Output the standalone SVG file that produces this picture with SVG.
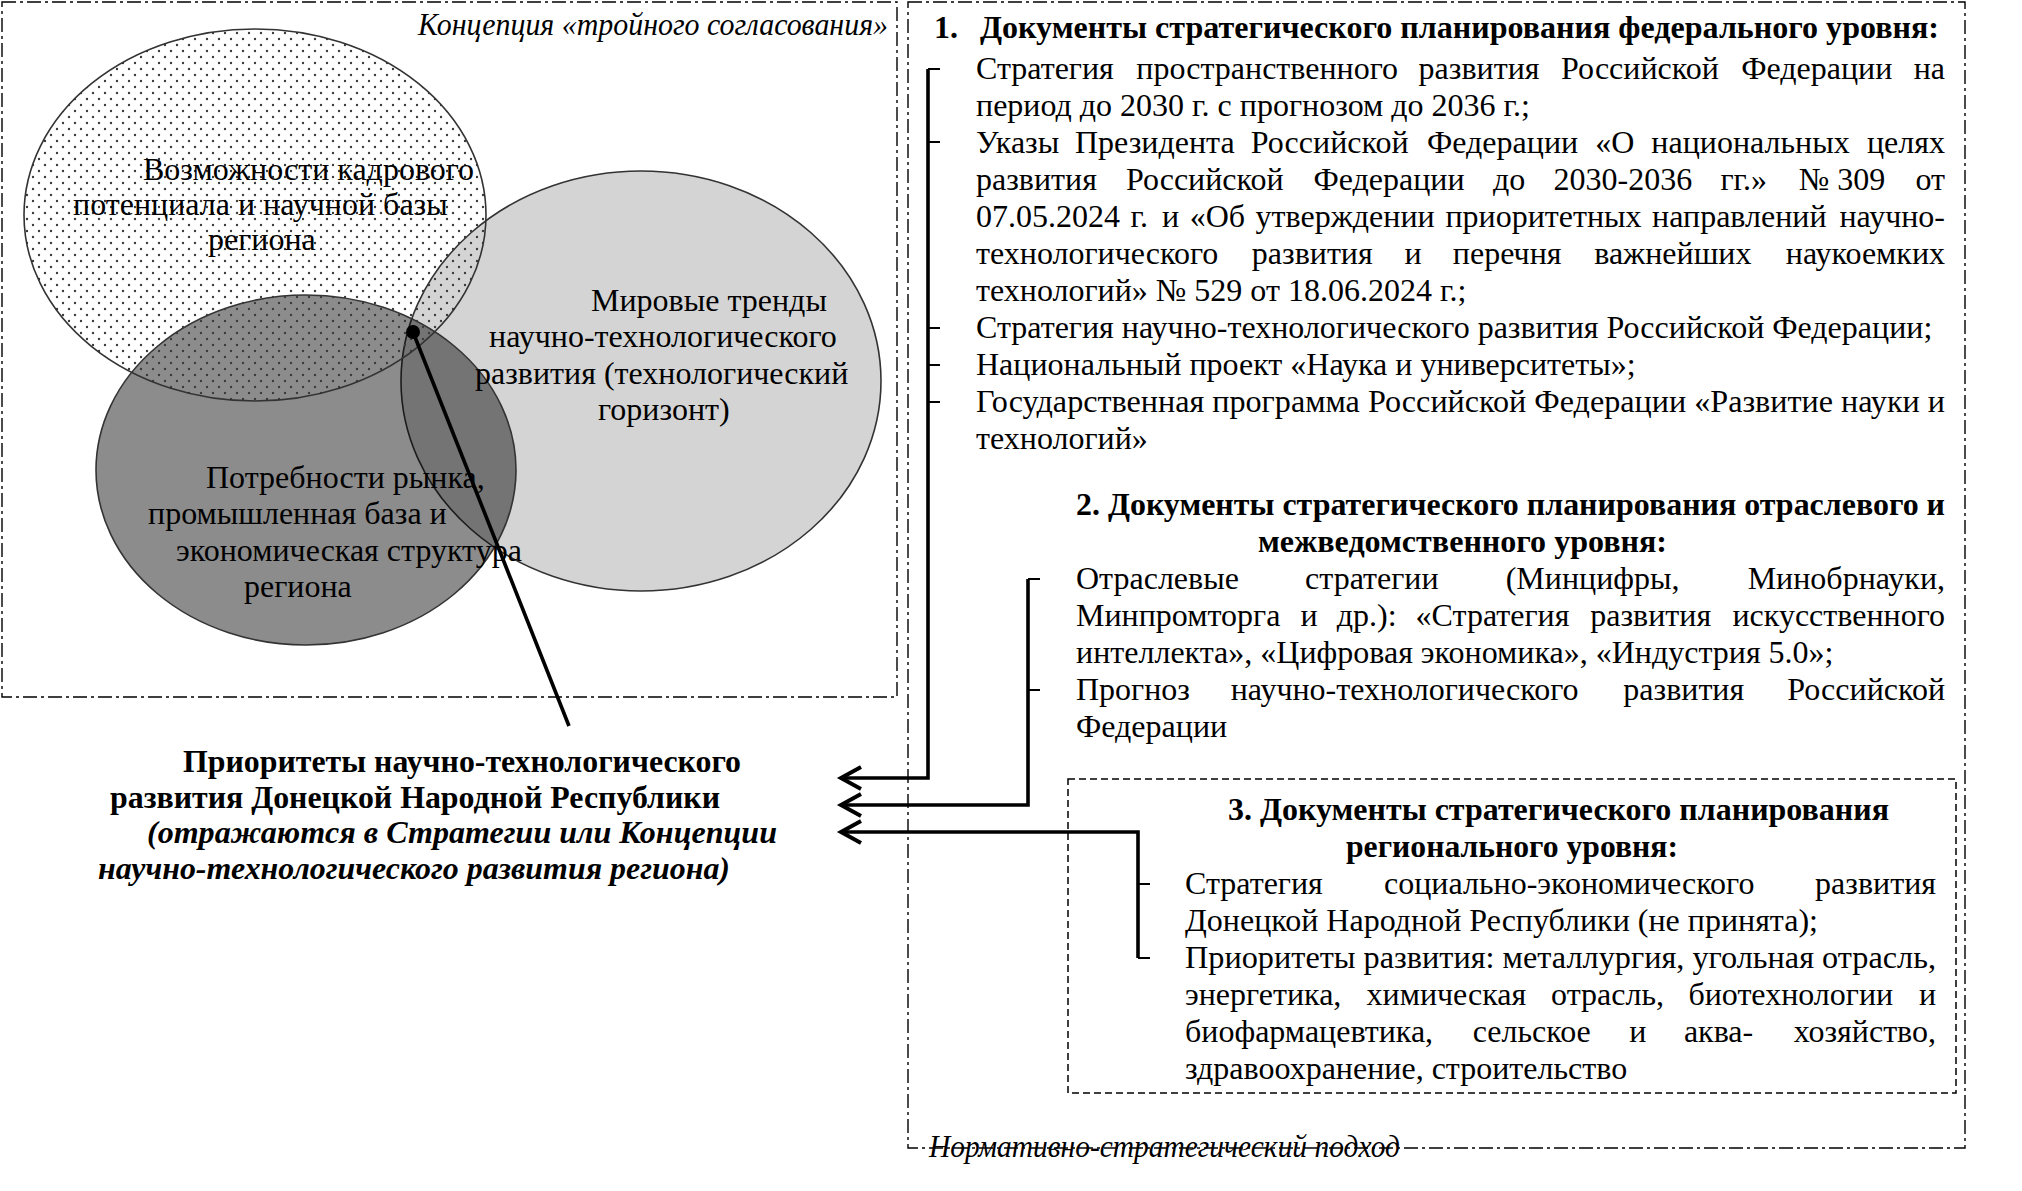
<svg xmlns="http://www.w3.org/2000/svg" width="2022" height="1191" viewBox="0 0 2022 1191">
<style>
text{font-family:"Liberation Serif","Times New Roman",serif;font-size:32px;fill:#000}
.b{font-weight:bold}
.i{font-style:italic}
.frame{fill:none;stroke:#000;stroke-width:1.4;stroke-dasharray:14 4 3 4}
.dash{fill:none;stroke:#000;stroke-width:1.5;stroke-dasharray:7 4}
.ell{stroke:#333;stroke-width:1.6}
.con{fill:none;stroke:#000;stroke-width:3.6;stroke-linejoin:miter}
.tick{stroke:#000;stroke-width:2}
</style>
<defs>
<pattern id="dots" width="12" height="12" patternUnits="userSpaceOnUse">
<circle cx="3" cy="3" r="1.2" fill="#3a3a3a"/>
<circle cx="9" cy="9" r="1.2" fill="#3a3a3a"/>
</pattern>
<marker id="arr" markerUnits="userSpaceOnUse" markerWidth="40" markerHeight="40" viewBox="-25 -20 40 40" refX="0" refY="0" orient="auto" overflow="visible">
<path d="M-20,-11 L0,0 L-20,11" fill="none" stroke="#000" stroke-width="4"/>
</marker>
</defs>
<rect width="2022" height="1191" fill="#fff"/>

<g id="frame-concept">
<rect class="frame" x="2" y="2" width="895" height="695"/>
<text class="i" x="418" y="35" textLength="470" lengthAdjust="spacingAndGlyphs">Концепция «тройного согласования»</text>
</g>

<g id="frame-normative">
<rect class="frame" x="908" y="2" width="1057" height="1146"/>
<text class="i" x="929" y="1157" textLength="471" lengthAdjust="spacingAndGlyphs">Нормативно-стратегический подход</text>
</g>

<g id="venn">
<ellipse id="world-trends" class="ell" cx="641" cy="381" rx="240" ry="210" fill="#d4d4d4"/>
<ellipse id="market-needs" class="ell" cx="306" cy="470" rx="210" ry="175" fill="#000" fill-opacity="0.45"/>
<ellipse id="staff-potential" class="ell" cx="255" cy="215" rx="231" ry="186" fill="url(#dots)"/>
<text x="143" y="180">Возможности кадрового</text>
<text x="73" y="215">потенциала и научной базы</text>
<text x="208" y="250">региона</text>
<text x="591" y="311">Мировые тренды</text>
<text x="489" y="347">научно-технологического</text>
<text x="475" y="384">развития (технологический</text>
<text x="598" y="420">горизонт)</text>
<text x="206" y="488">Потребности рынка,</text>
<text x="148" y="524">промышленная база и</text>
<text x="176" y="561">экономическая структура</text>
<text x="244" y="597">региона</text>
</g>

<g id="priorities">
<text class="b" x="183" y="772" textLength="558" lengthAdjust="spacingAndGlyphs">Приоритеты научно-технологического</text>
<text class="b" x="110" y="808" textLength="610" lengthAdjust="spacingAndGlyphs">развития Донецкой Народной Республики</text>
<text class="b i" x="147" y="843" textLength="630" lengthAdjust="spacingAndGlyphs">(отражаются в Стратегии или Концепции</text>
<text class="b i" x="98" y="879" textLength="632" lengthAdjust="spacingAndGlyphs">научно-технологического развития региона)</text>
</g>

<g id="federal-docs">
<text class="b" x="934" y="38">1.</text>
<text class="b" x="980" y="38" textLength="959" lengthAdjust="spacingAndGlyphs">Документы стратегического планирования федерального уровня:</text>
<text y="79"><tspan x="976">Стратегия</tspan><tspan x="1136.3">пространственного</tspan><tspan x="1418.6">развития</tspan><tspan x="1561.1">Российской</tspan><tspan x="1741.2">Федерации</tspan><tspan x="1945" text-anchor="end">на</tspan></text>
<text x="976" y="116">период до 2030 г. с прогнозом до 2036 г.;</text>
<text y="153"><tspan x="976">Указы</tspan><tspan x="1075">Президента</tspan><tspan x="1250.8">Российской</tspan><tspan x="1427">Федерации</tspan><tspan x="1595.3">«О</tspan><tspan x="1651.3">национальных</tspan><tspan x="1945" text-anchor="end">целях</tspan></text>
<text y="190"><tspan x="976">развития</tspan><tspan x="1125.9">Российской</tspan><tspan x="1313.4">Федерации</tspan><tspan x="1493">до</tspan><tspan x="1553.5">2030-2036</tspan><tspan x="1720.4">гг.»</tspan><tspan x="1798.8">№ 309</tspan><tspan x="1945" text-anchor="end">от</tspan></text>
<text y="227"><tspan x="976">07.05.2024</tspan><tspan x="1130.5">г.</tspan><tspan x="1162.1">и</tspan><tspan x="1189.7">«Об</tspan><tspan x="1255.6">утверждении</tspan><tspan x="1445.4">приоритетных</tspan><tspan x="1652.1">направлений</tspan><tspan x="1945" text-anchor="end">научно-</tspan></text>
<text y="264"><tspan x="976">технологического</tspan><tspan x="1251.8">развития</tspan><tspan x="1404.6">и</tspan><tspan x="1452.8">перечня</tspan><tspan x="1594.2">важнейших</tspan><tspan x="1945" text-anchor="end">наукоемких</tspan></text>
<text x="976" y="301">технологий» № 529 от 18.06.2024 г.;</text>
<text x="976" y="338">Стратегия научно-технологического развития Российской Федерации;</text>
<text x="976" y="375">Национальный проект «Наука и университеты»;</text>
<text x="976" y="412" textLength="969" lengthAdjust="spacingAndGlyphs">Государственная программа Российской Федерации «Развитие науки и</text>
<text x="976" y="449">технологий»</text>
</g>

<g id="sectoral-docs">
<text class="b" x="1076" y="515" textLength="869" lengthAdjust="spacingAndGlyphs">2. Документы стратегического планирования отраслевого и</text>
<text class="b" x="1258" y="552" textLength="409" lengthAdjust="spacingAndGlyphs">межведомственного уровня:</text>
<text y="589"><tspan x="1076">Отраслевые</tspan><tspan x="1305.1">стратегии</tspan><tspan x="1505.7">(Минцифры,</tspan><tspan x="1945" text-anchor="end">Минобрнауки,</tspan></text>
<text y="626"><tspan x="1076">Минпромторга</tspan><tspan x="1300.5">и</tspan><tspan x="1336.7">др.):</tspan><tspan x="1415.6">«Стратегия</tspan><tspan x="1590.2">развития</tspan><tspan x="1945" text-anchor="end">искусственного</tspan></text>
<text x="1076" y="663">интеллекта», «Цифровая экономика», «Индустрия 5.0»;</text>
<text y="700"><tspan x="1076">Прогноз</tspan><tspan x="1230.7">научно-технологического</tspan><tspan x="1623.3">развития</tspan><tspan x="1945" text-anchor="end">Российской</tspan></text>
<text x="1076" y="737">Федерации</text>
</g>

<g id="regional-docs">
<rect class="dash" x="1068" y="779" width="888" height="314"/>
<text class="b" x="1228" y="820" textLength="661" lengthAdjust="spacingAndGlyphs">3. Документы стратегического планирования</text>
<text class="b" x="1346" y="857" textLength="332" lengthAdjust="spacingAndGlyphs">регионального уровня:</text>
<text y="894"><tspan x="1185">Стратегия</tspan><tspan x="1384">социально-экономического</tspan><tspan x="1936" text-anchor="end">развития</tspan></text>
<text x="1185" y="931">Донецкой Народной Республики (не принята);</text>
<text x="1185" y="968" textLength="751" lengthAdjust="spacingAndGlyphs">Приоритеты развития: металлургия, угольная отрасль,</text>
<text y="1005"><tspan x="1185">энергетика,</tspan><tspan x="1366.5">химическая</tspan><tspan x="1551.1">отрасль,</tspan><tspan x="1688.4">биотехнологии</tspan><tspan x="1936" text-anchor="end">и</tspan></text>
<text y="1042"><tspan x="1185">биофармацевтика,</tspan><tspan x="1472.7">сельское</tspan><tspan x="1629.2">и</tspan><tspan x="1683.9">аква-</tspan><tspan x="1936" text-anchor="end">хозяйство,</tspan></text>
<text x="1185" y="1079">здравоохранение, строительство</text>
</g>

<g id="connectors">
<line class="con" x1="413" y1="332" x2="569" y2="726"/>
<circle cx="413" cy="332" r="7" fill="#000"/>
<path class="con" d="M928,69 V778 H841" marker-end="url(#arr)"/>
<path class="con" d="M1028,579 V805 H841" marker-end="url(#arr)"/>
<path class="con" d="M1138,958 V832 H841" marker-end="url(#arr)"/>
<line class="tick" x1="928" y1="69" x2="940" y2="69"/>
<line class="tick" x1="928" y1="142" x2="940" y2="142"/>
<line class="tick" x1="928" y1="328" x2="940" y2="328"/>
<line class="tick" x1="928" y1="365" x2="940" y2="365"/>
<line class="tick" x1="928" y1="402" x2="940" y2="402"/>
<line class="tick" x1="1028" y1="579" x2="1040" y2="579"/>
<line class="tick" x1="1028" y1="690" x2="1040" y2="690"/>
<line class="tick" x1="1138" y1="884" x2="1150" y2="884"/>
<line class="tick" x1="1138" y1="958" x2="1150" y2="958"/>
</g>
</svg>
